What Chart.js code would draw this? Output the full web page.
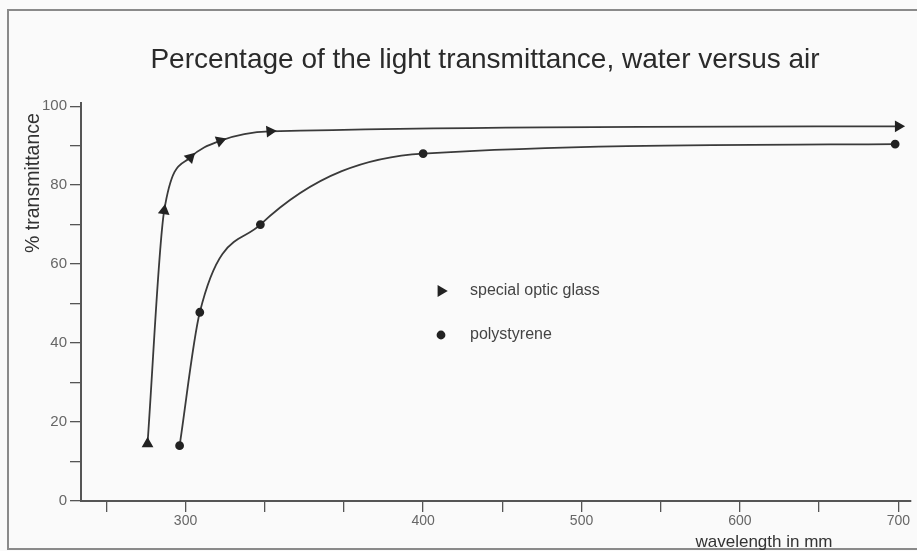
<!DOCTYPE html>
<html>
<head>
<meta charset="utf-8">
<script src="https://cdn.jsdelivr.net/npm/chart.js@4"></script>
<style>
html,body{margin:0;padding:0;background:#fafafa;}
#wrap{width:917px;height:551px;}
</style>
</head>
<body>
<div id="wrap"><canvas id="myChart" width="917" height="551"></canvas></div>
<script>
const chartTitle = "Percentage of the light transmittance, water versus air";
const xTitle = "wavelength in mm";
const yTitle = "% transmittance";

const glassLabel = "special optic glass";
const glassWave  = [284, 291, 302, 314.5, 335.5, 700];
const glassTrans = [14.5, 73.5, 87, 91.2, 93.6, 94.9];

const polyLabel = "polystyrene";
const polyWave  = [297.5, 306, 331.5, 400, 698];
const polyTrans = [14, 47.8, 70, 88, 90.4];

// the original axis is stretched below 400 (three ticks per 100 there, two above)
const xTicks = [266.7, 300, 333.3, 366.7, 400, 450, 500, 550, 600, 650, 700];
const xLabelled = [300, 400, 500, 600, 700];
const yTicks = [0, 10, 20, 30, 40, 50, 60, 70, 80, 90, 100];
const yLabelled = [0, 20, 40, 60, 80, 100];

const stretchBelow = 400, stretchFactor = 1.5;
function warp(v){ return v < stretchBelow ? stretchBelow - (stretchBelow - v) * stretchFactor : v; }
function unwarp(u){ return u < stretchBelow ? stretchBelow - (stretchBelow - u) / stretchFactor : u; }

class StretchScale extends Chart.LinearScale {
  getPixelForValue(value){
    if (value === null || value === undefined) return NaN;
    const a = warp(this.min), b = warp(this.max);
    return this.getPixelForDecimal((warp(value) - a) / (b - a));
  }
  getValueForPixel(pixel){
    const a = warp(this.min), b = warp(this.max);
    return unwarp(a + this.getDecimalForPixel(pixel) * (b - a));
  }
}
StretchScale.id = 'stretch';
StretchScale.defaults = Chart.LinearScale.defaults;
Chart.register(StretchScale);

const font = "'Liberation Sans', Arial, sans-serif";
const ink = '#333';

const paperPlugin = {
  id: 'paper',
  beforeDraw(chart){
    const c = chart.ctx;
    c.save();
    c.fillStyle = '#fafafa';
    c.fillRect(0, 0, chart.width, chart.height);
    c.strokeStyle = '#8a8a8a';
    c.lineWidth = 2;
    c.beginPath();
    c.moveTo(chart.width, 10); c.lineTo(8, 10); c.lineTo(8, 549); c.lineTo(chart.width, 549);
    c.stroke();
    c.restore();
  },
  afterDraw(chart){
    const c = chart.ctx;
    c.save();
    c.fillStyle = '#2a2a2a';
    c.textAlign = 'center';
    c.textBaseline = 'middle';
    c.font = "28px " + font;
    c.fillText(chartTitle, 485, 60);

    c.fillStyle = ink;
    c.font = "17px " + font;
    c.fillText(xTitle, 764, 542);

    c.save();
    c.translate(34, 183);
    c.rotate(-Math.PI / 2);
    c.font = "19.5px " + font;
    c.fillText(yTitle, 0, 0);
    c.restore();

    // legend inside the plot
    const rows = [291, 335];
    const rot = [90, 0];
    chart.data.datasets.forEach((ds, i) => {
      c.fillStyle = '#222';
      c.strokeStyle = '#222';
      Chart.helpers.drawPoint(c, {pointStyle: ds.pointStyle, rotation: rot[i], radius: i ? 3.5 : 5, borderWidth: 1}, 441, rows[i]);
      c.fillStyle = '#444';
      c.textAlign = 'left';
      c.font = "16px " + font;
      c.fillText(ds.label, 470, rows[i]);
    });
    c.restore();
  }
};

const chart = new Chart(document.getElementById('myChart').getContext('2d'), {
  type: 'line',
  data: {
    datasets: [{
      label: glassLabel,
      data: glassWave.map((x, i) => ({x: x, y: glassTrans[i]})),
      borderColor: '#3a3a3a',
      borderWidth: 1.8,
      pointStyle: 'triangle',
      pointRadius: 5,
      pointRotation: [0, 8, 45, 70, 85, 90],
      pointBackgroundColor: '#222',
      pointBorderColor: '#222',
      cubicInterpolationMode: 'monotone',
      clip: false
    }, {
      label: polyLabel,
      data: polyWave.map((x, i) => ({x: x, y: polyTrans[i]})),
      borderColor: '#3a3a3a',
      borderWidth: 1.8,
      pointStyle: 'circle',
      pointRadius: 3.5,
      pointBackgroundColor: '#222',
      pointBorderColor: '#222',
      cubicInterpolationMode: 'monotone',
      clip: false
    }]
  },
  options: {
    responsive: false,
    animation: false,
    layout: {padding: {top: 103, left: 0, right: 0, bottom: 0}},
    plugins: {legend: {display: false}, title: {display: false}, tooltip: {enabled: false}},
    scales: {
      x: {
        type: 'stretch',
        min: 256,
        max: 707.5,
        afterFit(scale){ scale.height = 50; },
        afterBuildTicks(scale){ scale.ticks = xTicks.map(v => ({value: v})); },
        grid: {drawOnChartArea: false, drawTicks: true, tickLength: 11, color: '#555', lineWidth: 1.3},
        border: {color: '#555', width: 2},
        ticks: {
          autoSkip: false, maxRotation: 0, padding: 1,
          color: '#666', font: {family: font, size: 14},
          callback: v => xLabelled.includes(Math.round(v)) ? String(Math.round(v)) : ''
        }
      },
      y: {
        min: 0,
        max: 100.8,
        afterFit(scale){ scale.width = 81; },
        afterBuildTicks(scale){ scale.ticks = yTicks.map(v => ({value: v})); },
        grid: {drawOnChartArea: false, drawTicks: true, tickLength: 11, color: '#555', lineWidth: 1.3},
        border: {color: '#555', width: 2},
        ticks: {
          autoSkip: false, padding: 3,
          color: '#666', font: {family: font, size: 15},
          callback: v => yLabelled.includes(v) ? String(v) : ''
        }
      }
    }
  },
  plugins: [paperPlugin]
});
</script>
</body>
</html>
